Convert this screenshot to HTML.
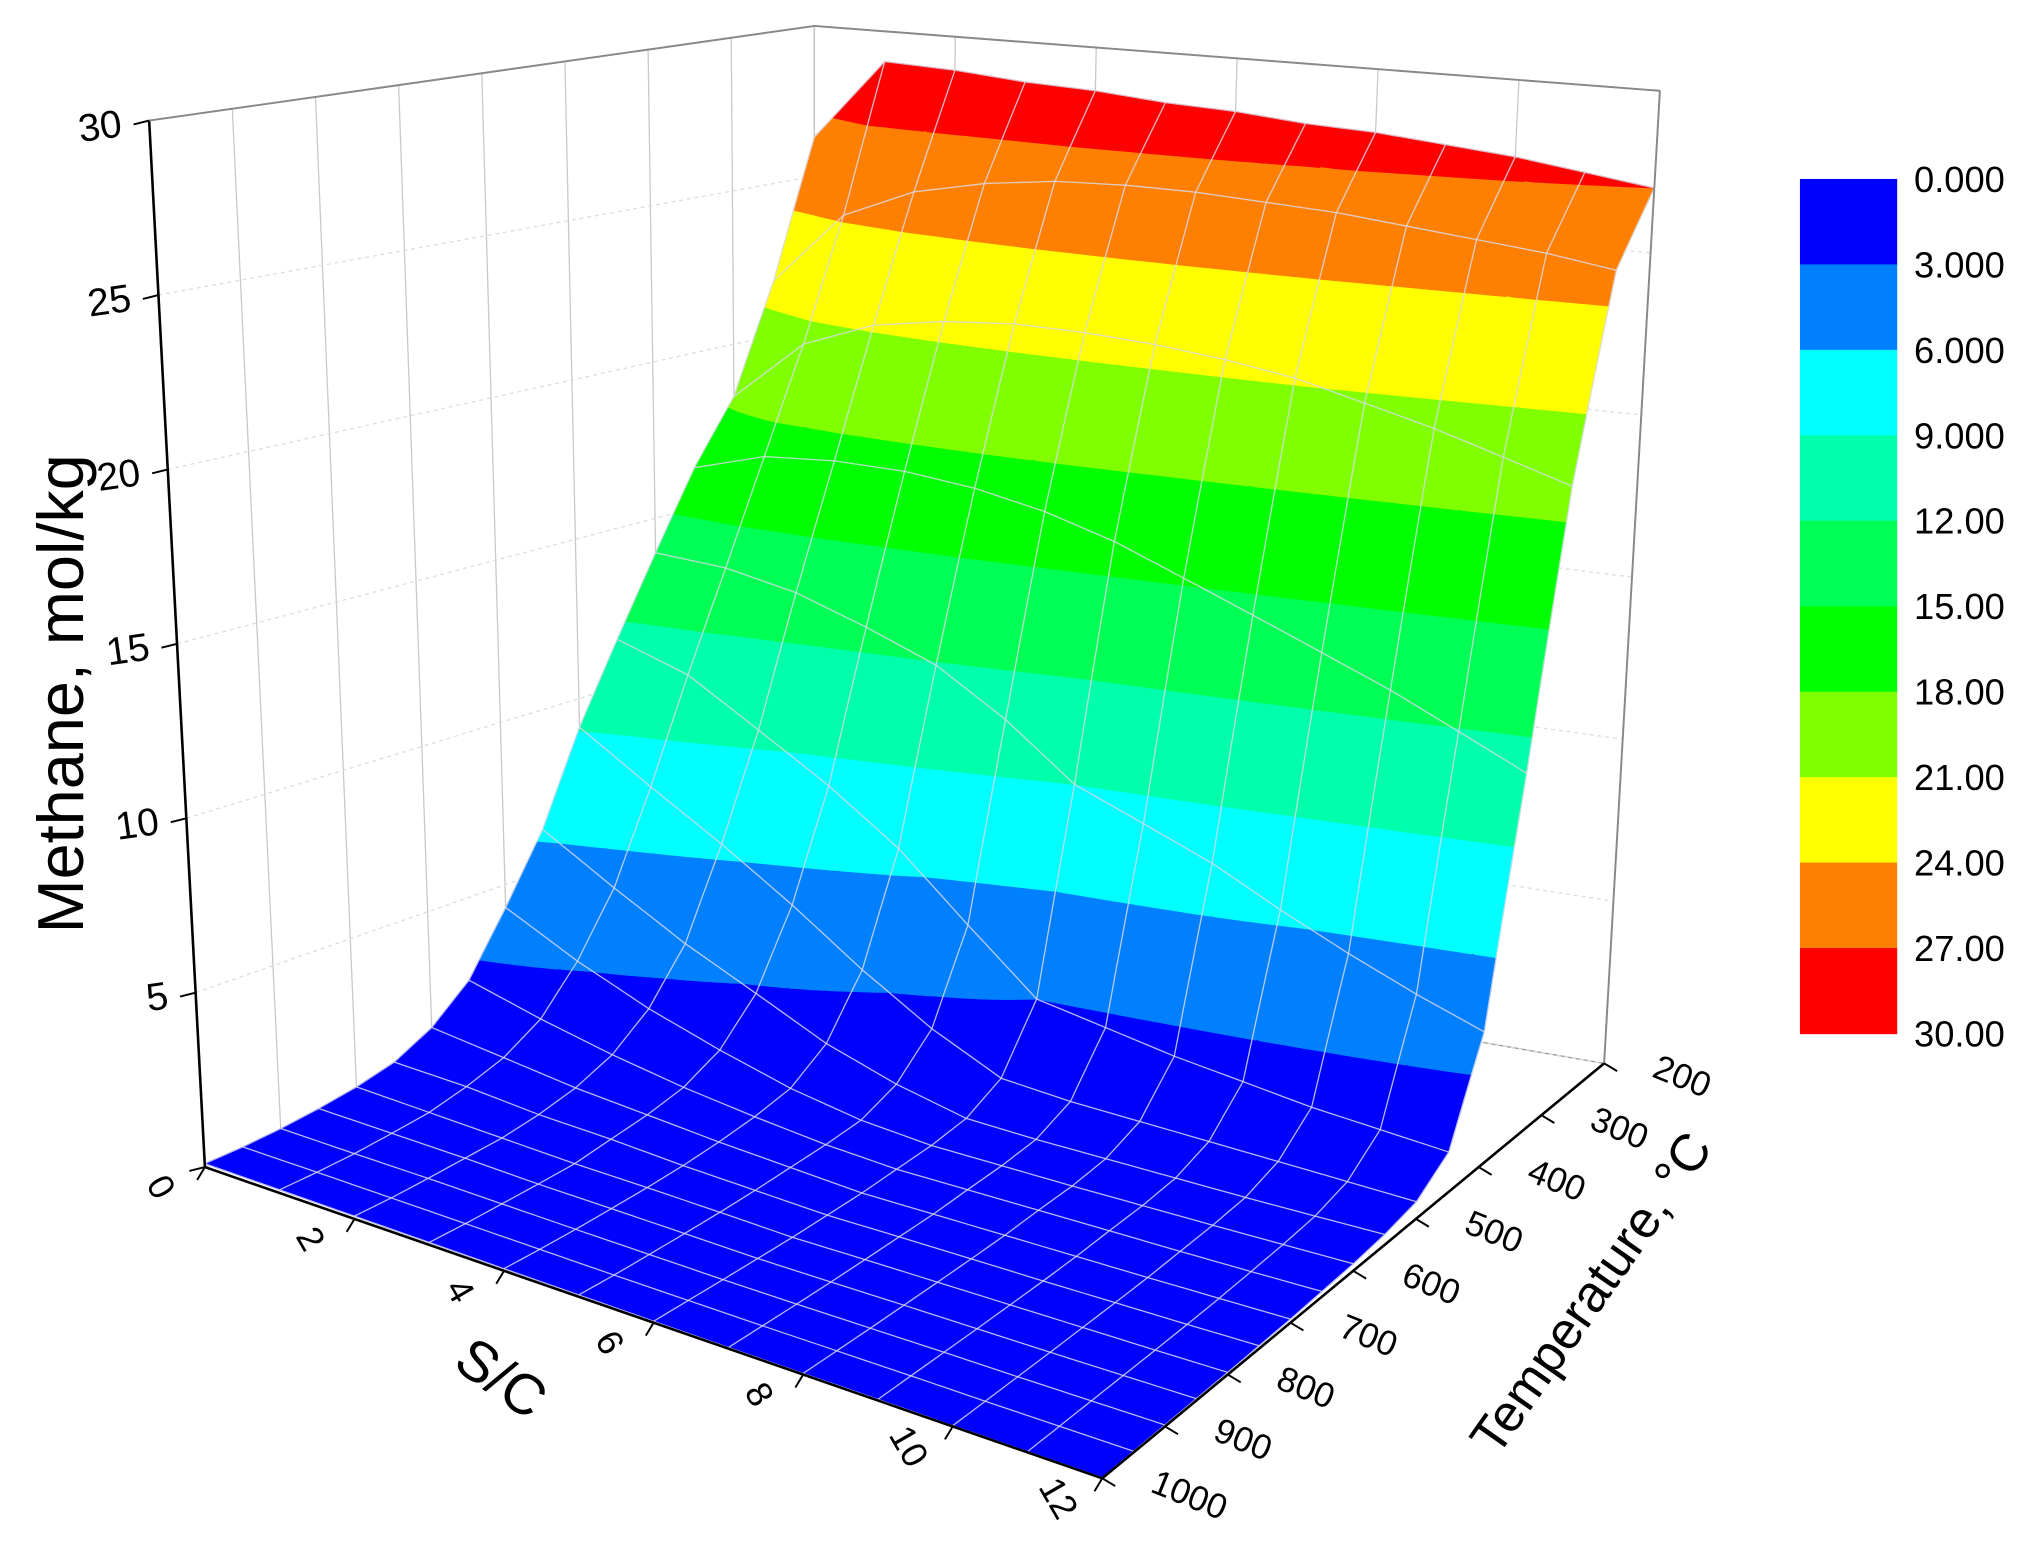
<!DOCTYPE html>
<html><head><meta charset="utf-8"><style>
html,body{margin:0;padding:0;background:#fff;}
svg{display:block;font-family:"Liberation Sans",Arial,sans-serif;}
</style></head><body>
<svg id="chart" width="2023" height="1546" viewBox="0 0 1560 1192.2" xmlns="http://www.w3.org/2000/svg">
<g id="walls"></g>
<g id="surface"></g>
<g id="axes"></g>
<g id="legend"></g>
</svg>
<script>
// ---- data ----
const sValues = [0,1,2,3,4,5,6,7,8,9,10,11,12];
const tValues = [200,250,300,350,400,450,500,550,600,650,700,750,800,850,900,950,1000];
const zRow200 = [26.3,29.0,28.9,28.7,28.6,28.4,28.3,28.1,28.0,27.8,27.6,27.3,27.0];
const zRow250 = [21.8,24.2,25.2,25.7,26.0,26.1,26.1,26.0,25.9,25.7,25.5,25.3,25.0];
const zRow300 = [18.3,20.3,21.2,21.6,21.8,21.8,21.7,21.5,21.2,20.7,20.2,19.6,19.0];
const zRow350 = [16.3,17.0,17.2,17.2,17.0,16.6,16.0,15.2,14.4,13.6,12.8,11.9,11.0];
const zRow400 = [13.9,13.8,13.4,12.7,11.9,10.6,9.0,8.2,7.4,6.4,5.5,4.7,4.0];
const zRow450 = [11.5,10.8,9.5,8.2,6.7,4.8,3.0,2.6,2.2,1.9,1.6,1.4,1.2];
const zRow500 = [9.1,7.7,6.4,5.0,3.5,2.2,1.2,1.0,0.9,0.8,0.7,0.6,0.5];
const zRow550 = [6.3,5.0,3.8,2.8,1.8,1.1,0.6,0.5,0.45,0.4,0.35,0.32,0.3];
const zRow600 = [4.3,3.2,2.3,1.6,1.0,0.6,0.4,0.35,0.3,0.27,0.24,0.22,0.2];
const zRow650 = [2.5,1.9,1.4,1.0,0.7,0.45,0.3,0.27,0.24,0.21,0.18,0.16,0.15];
const zRow700 = [1.5,1.2,0.9,0.7,0.5,0.35,0.2,0.18,0.16,0.14,0.12,0.11,0.1];
const zRow750 = [0.9,0.8,0.6,0.5,0.35,0.25,0.15,0.14,0.12,0.1,0.09,0.08,0.08];
const zRow800 = [0.6,0.5,0.4,0.3,0.25,0.18,0.1,0.1,0.09,0.08,0.07,0.06,0.06];
const zRow850 = [0.4,0.35,0.3,0.22,0.18,0.13,0.08,0.07,0.07,0.06,0.05,0.05,0.05];
const zRow900 = [0.25,0.22,0.2,0.16,0.12,0.09,0.06,0.05,0.05,0.05,0.04,0.04,0.04];
const zRow950 = [0.15,0.14,0.12,0.1,0.08,0.06,0.05,0.04,0.04,0.04,0.03,0.03,0.03];
const zRow1000 = [0.1,0.09,0.08,0.07,0.06,0.05,0.04,0.03,0.03,0.03,0.02,0.02,0.02];
const zGrid = [zRow200,zRow250,zRow300,zRow350,zRow400,zRow450,zRow500,zRow550,zRow600,zRow650,zRow700,zRow750,zRow800,zRow850,zRow900,zRow950,zRow1000];
const levelLabels = ["0.000","3.000","6.000","9.000","12.00","15.00","18.00","21.00","24.00","27.00","30.00"];
const levelValues = [0,3,6,9,12,15,18,21,24,27,30];
const levelColors = ["#0000ff","#0080ff","#00ffff","#00ffaa","#00ff55","#00ff00","#80ff00","#ffff00","#ff8000","#ff0000"];
const zTicks = [0,5,10,15,20,25,30];
const zTickLabels = ["","5","10","15","20","25","30"];
const sTicks = [0,2,4,6,8,10,12];
const tTicks = [200,300,400,500,600,700,800,900,1000];

// ---- projection ----
const F00=[628,715],F10=[1237,820],F01=[158,900],F11=[850,1140];
const T00=[628,20],T10=[1280,70],T01=[115,93],T11=[850,263];
function bil(a,b,c,d,u,v){return[(1-u)*(1-v)*a[0]+u*(1-v)*b[0]+(1-u)*v*c[0]+u*v*d[0],(1-u)*(1-v)*a[1]+u*(1-v)*b[1]+(1-u)*v*c[1]+u*v*d[1]];}
function proj(s,t,z){const u=s/12,v=(t-200)/800,w=z/30;const f=bil(F00,F10,F01,F11,u,v),g=bil(T00,T10,T01,T11,u,v);return[f[0]+w*(g[0]-f[0]),f[1]+w*(g[1]-f[1])];}
const NS="http://www.w3.org/2000/svg";
function mk(tag,attrs,parent){const e=document.createElementNS(NS,tag);for(const k in attrs)e.setAttribute(k,attrs[k]);parent.appendChild(e);return e;}
function pts(a){return a.map(p=>p[0].toFixed(2)+","+p[1].toFixed(2)).join(" ");}
function zAt(si,ti,a,b){const z00=zGrid[ti][si],z10=zGrid[ti][si+1],z01=zGrid[ti+1][si],z11=zGrid[ti+1][si+1];return (1-a)*(1-b)*z00+a*(1-b)*z10+(1-a)*b*z01+a*b*z11;}

function clip(poly,val,keepAbove){
  const out=[];
  for(let i=0;i<poly.length;i++){
    const A=poly[i],B=poly[(i+1)%poly.length];
    const ina=keepAbove?A[2]>=val:A[2]<=val, inb=keepAbove?B[2]>=val:B[2]<=val;
    if(ina)out.push(A);
    if(ina!==inb){const f=(val-A[2])/(B[2]-A[2]);out.push([A[0]+f*(B[0]-A[0]),A[1]+f*(B[1]-A[1]),val]);}
  }
  return out;
}

// ---- walls ----
const walls=document.getElementById('walls');
let lw=mk('polygon',{points:pts([proj(0,200,0),proj(0,1000,0),proj(0,1000,30),proj(0,200,30)]),fill:'#fff',stroke:'#999','stroke-width':1},walls);

let rw=mk('polygon',{points:pts([proj(0,200,0),proj(12,200,0),proj(12,200,30),proj(0,200,30)]),fill:'#fff',stroke:'#999','stroke-width':1},walls);

tTicks.forEach(t=>{const a=proj(0,t,0),b=proj(0,t,30);const l=mk('line',{x1:a[0],y1:a[1],x2:b[0],y2:b[1],stroke:'#c8c8c8','stroke-width':1},walls);});
sTicks.forEach(s=>{const a=proj(s,200,0),b=proj(s,200,30);const l=mk('line',{x1:a[0],y1:a[1],x2:b[0],y2:b[1],stroke:'#c8c8c8','stroke-width':1},walls);});
zTicks.forEach(z=>{const a=proj(0,1000,z),b=proj(0,200,z),c=proj(12,200,z);const l=mk('polyline',{points:pts([a,b,c]),fill:'none',stroke:'#ddd','stroke-width':1,'stroke-dasharray':'3,3'},walls);});

// ---- surface ----
const surf=document.getElementById('surface');
const N=4;
for(let ti=0;ti<tValues.length-1;ti++){
  for(let j=0;j<N;j++){
    for(let si=0;si<sValues.length-1;si++){
      const s0=sValues[si],s1=sValues[si+1],t0=tValues[ti],t1=tValues[ti+1];
      for(let i=0;i<N;i++){
        const a0=i/N,a1=(i+1)/N,b0=j/N,b1=(j+1)/N;
        const V=(a,b)=>[s0+a*(s1-s0),t0+b*(t1-t0),zAt(si,ti,a,b)];
        const quad=[V(a0,b0),V(a1,b0),V(a1,b1),V(a0,b1)];
        const zs=quad.map(p=>p[2]);const zmin=Math.min(...zs),zmax=Math.max(...zs);
        for(let k=0;k<levelColors.length;k++){
          const lo=levelValues[k],hi=levelValues[k+1];
          if(zmax<lo&&k>0)continue; if(zmin>hi&&k<levelColors.length-1)continue;
          let poly=quad;
          if(k>0)poly=clip(poly,lo,true);
          if(poly.length<3)continue;
          if(k<levelColors.length-1)poly=clip(poly,hi,false);
          if(poly.length<3)continue;
          const c=levelColors[k];
          const q=mk('polygon',{points:pts(poly.map(p=>proj(p[0],p[1],p[2]))),fill:c,stroke:c,'stroke-width':0.7,'stroke-linejoin':'round'},surf);
          
          
        }
      }
    }
  }
}
for(let ti=0;ti<tValues.length;ti++){
  const arr=[];for(let si=0;si<sValues.length-1;si++){for(let k=0;k<=N;k++){const a=k/N;const z=ti<tValues.length-1?zAt(si,ti,a,0):zAt(si,ti-1,a,1);arr.push(proj(sValues[si]+a*(sValues[si+1]-sValues[si]),tValues[ti],z));}}
  const l=mk('polyline',{points:pts(arr),fill:'none',stroke:'#d8d8e8','stroke-width':1,opacity:0.85},surf);
  
}
for(let si=0;si<sValues.length;si++){
  const arr=[];for(let ti=0;ti<tValues.length-1;ti++){for(let k=0;k<=N;k++){const b=k/N;const z=si<sValues.length-1?zAt(si,ti,0,b):zAt(si-1,ti,1,b);arr.push(proj(sValues[si],tValues[ti]+b*(tValues[ti+1]-tValues[ti]),z));}}
  const l=mk('polyline',{points:pts(arr),fill:'none',stroke:'#d8d8e8','stroke-width':1,opacity:0.85},surf);
  
}

// ---- axes ----
const ax=document.getElementById('axes');
function line(a,b,col,w,name){const l=mk('line',{x1:a[0],y1:a[1],x2:b[0],y2:b[1],stroke:col,'stroke-width':w},ax);}
line(proj(0,1000,0),proj(0,1000,30),'#000',2,'z-axis-line');
line(proj(0,1000,0),proj(12,1000,0),'#000',2,'sc-axis-line');
line(proj(12,1000,0),proj(12,200,0),'#000',2,'temperature-axis-line');
line(proj(0,200,30),proj(0,1000,30),'#888',1.5,'left-wall-top-edge');
line(proj(0,200,30),proj(12,200,30),'#888',1.5,'right-wall-top-edge');
line(proj(12,200,0),proj(12,200,30),'#888',1.5,'right-wall-edge');
zTicks.forEach((z,k)=>{const p=proj(0,1000,z);line(p,[p[0]-12,p[1]+3],'#000',1.5,'z-tick');
  const t=mk('text',{x:p[0]-20,y:p[1]+12,'font-size':30,'text-anchor':'end',transform:`rotate(-8 ${p[0]-20} ${p[1]+12})`},ax);t.textContent=zTickLabels[k];
  });
sTicks.forEach(s=>{const p=proj(s,1000,0);line(p,[p[0]-6,p[1]+10],'#000',1.5,'sc-tick');
  const x=p[0]-42,y=p[1]+20;const t=mk('text',{x:x,y:y,'font-size':28,'text-anchor':'middle',transform:`rotate(60 ${x} ${y})`},ax);t.textContent=s;
  });
tTicks.forEach(tt=>{const p=proj(12,tt,0);line(p,[p[0]+10,p[1]+6],'#000',1.5,'temperature-tick');
  const x=p[0]+36,y=p[1]+10;const t=mk('text',{x:x,y:y,'font-size':27,'text-anchor':'start',transform:`rotate(22 ${x} ${y})`},ax);t.textContent=tt;
  });
</script>
<script>
(function(){
const ax=document.getElementById('axes');
const NS="http://www.w3.org/2000/svg";
function txt(x,y,size,rot,str,name,anchor){const t=document.createElementNS(NS,'text');t.setAttribute('x',x);t.setAttribute('y',y);t.setAttribute('font-size',size);t.setAttribute('text-anchor',anchor||'middle');t.setAttribute('transform',`rotate(${rot} ${x} ${y})`);t.textContent=str;ax.appendChild(t);

}
txt(64,535,50,-90,'Methane, mol/kg','z-axis-title');
txt(378,1075,44,35,'S/C','sc-axis-title');
txt(1238,1005,40,-55,'Temperature, °C','temperature-axis-title');
const lg=document.getElementById('legend');
const x0=1388,w=75,y0=138,h=65.9;
for(let i=0;i<levelColors.length;i++){const r=document.createElementNS(NS,'rect');r.setAttribute('x',x0);r.setAttribute('y',y0+i*h);r.setAttribute('width',w);r.setAttribute('height',h+0.5);r.setAttribute('fill',levelColors[i]);lg.appendChild(r);

}
for(let i=0;i<levelLabels.length;i++){const t=document.createElementNS(NS,'text');t.setAttribute('x',1476);t.setAttribute('y',y0+i*h+10);t.setAttribute('font-size',28);t.textContent=levelLabels[i];lg.appendChild(t);

}
})();
</script>
</body></html>
